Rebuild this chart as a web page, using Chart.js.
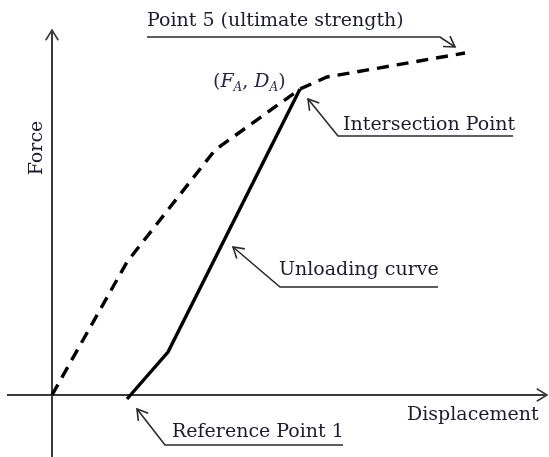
<!DOCTYPE html>
<html>
<head>
<meta charset="utf-8">
<title>Force - Displacement</title>
<script src="https://cdn.jsdelivr.net/npm/chart.js@4"></script>
<style>
  html, body { margin: 0; padding: 0; background: #fff; }
  #wrap { width: 549px; height: 457px; }
</style>
</head>
<body>
<div id="wrap"><canvas id="fdChart" width="549" height="457"></canvas></div>
<script>
// loading envelope (dashed) and unloading branch (solid)
const loadDisp = [0, 1.5, 3.26, 4.96, 5.5, 8.26];
const loadForce = [0, 2.66, 4.9, 6.12, 6.36, 6.84];
const unloadDisp = [1.5, 2.32, 4.96];
const unloadForce = [-0.08, 0.86, 6.12];

const toPoints = (xs, ys) => xs.map((x, i) => ({ x: x, y: ys[i] }));

const serif = '"DejaVu Serif", "Liberation Serif", serif';
const fontSize = 19;
const inkColor = "#1c1c30";

// callouts: text with an underline and a leader ending in an open arrow
const callouts = [
  { text: "Point 5 (ultimate strength)", at: [1.9, 7.38], line: [[1.9, 7.16], [7.76, 7.16], [8.06, 6.96]] },
  { text: "Intersection Point", at: [5.82, 5.3], line: [[9.22, 5.18], [5.72, 5.18], [5.12, 5.92]] },
  { text: "Unloading curve", at: [4.54, 2.4], line: [[7.72, 2.16], [4.56, 2.16], [3.62, 2.96]] },
  { text: "Reference Point 1", at: [2.4, -0.84], line: [[5.82, -1.0], [2.26, -1.0], [1.7, -0.28]] },
];

function arrowHead(ctx, fx, fy, tx, ty, len) {
  const a = Math.atan2(ty - fy, tx - fx);
  ctx.beginPath();
  ctx.moveTo(tx - len * Math.cos(a - 0.55), ty - len * Math.sin(a - 0.55));
  ctx.lineTo(tx, ty);
  ctx.lineTo(tx - len * Math.cos(a + 0.55), ty - len * Math.sin(a + 0.55));
  ctx.stroke();
}

const sketchAxes = {
  id: "sketchAxes",
  beforeDatasetsDraw(chart) {
    const { ctx, scales: { x, y } } = chart;
    const x0 = x.getPixelForValue(0);
    const y0 = y.getPixelForValue(0);
    ctx.save();
    ctx.strokeStyle = "#3a3a3a";
    ctx.lineWidth = 2;
    ctx.beginPath();
    ctx.moveTo(7, y0);
    ctx.lineTo(chart.width - 2, y0);
    ctx.moveTo(x0, chart.height);
    ctx.lineTo(x0, 30);
    ctx.stroke();
    ctx.lineWidth = 1.6;
    arrowHead(ctx, 7, y0, chart.width - 2, y0, 12);
    arrowHead(ctx, x0, chart.height, x0, 30, 12);
    ctx.restore();
  },
  afterDatasetsDraw(chart) {
    const { ctx, scales: { x, y } } = chart;
    const px = (p) => [x.getPixelForValue(p[0]), y.getPixelForValue(p[1])];
    const font = (style, size) => style + " " + size + "px " + serif;
    ctx.save();
    ctx.fillStyle = inkColor;
    ctx.textBaseline = "alphabetic";
    ctx.font = font("", fontSize);

    callouts.forEach((c) => {
      const [tx, ty] = px(c.at);
      ctx.fillText(c.text, tx, ty);
      const pts = c.line.map(px);
      ctx.strokeStyle = "#2a2a2a";
      ctx.lineWidth = 1.6;
      ctx.beginPath();
      pts.forEach((p, i) => (i ? ctx.lineTo(p[0], p[1]) : ctx.moveTo(p[0], p[1])));
      ctx.stroke();
      const n = pts.length;
      arrowHead(ctx, pts[n - 2][0], pts[n - 2][1], pts[n - 1][0], pts[n - 1][1], 12);
    });

    // axis titles
    let [dx, dy] = px([7.1, -0.5]);
    ctx.fillText("Displacement", dx, dy);
    [dx, dy] = px([-0.3, 4.94]);
    ctx.save();
    ctx.translate(dx, dy);
    ctx.rotate(-Math.PI / 2);
    ctx.textAlign = "center";
    ctx.textBaseline = "middle";
    ctx.fillText("Force", 0, 0);
    ctx.restore();

    // (F_A, D_A) label at the intersection
    let [lx, ly] = px([3.22, 6.16]);
    ctx.fillStyle = "#26264a";
    const parts = [
      ["(", font("", fontSize), 0],
      ["F", font("italic", fontSize), 0],
      ["A", font("italic", 12), 4],
      [", ", font("", fontSize), 0],
      ["D", font("italic", fontSize), 0],
      ["A", font("italic", 12), 4],
      [")", font("", fontSize), 0],
    ];
    parts.forEach(([s, f, off]) => {
      ctx.font = f;
      ctx.fillText(s, lx, ly + off);
      lx += ctx.measureText(s).width;
    });
    ctx.restore();
  },
};

new Chart(document.getElementById("fdChart"), {
  type: "scatter",
  data: {
    datasets: [
      {
        label: "Loading",
        data: toPoints(loadDisp, loadForce),
        showLine: true,
        borderColor: "#000",
        borderWidth: 3.4,
        borderDash: [12, 8],
        pointRadius: 0,
        tension: 0,
      },
      {
        label: "Unloading curve",
        data: toPoints(unloadDisp, unloadForce),
        showLine: true,
        borderColor: "#000",
        borderWidth: 3.4,
        pointRadius: 0,
        tension: 0,
      },
    ],
  },
  options: {
    responsive: false,
    animation: false,
    layout: { padding: 0 },
    plugins: { legend: { display: false }, tooltip: { enabled: false } },
    scales: {
      x: { type: "linear", display: false, min: -1.04, max: 9.94 },
      y: { type: "linear", display: false, min: -1.24, max: 7.9 },
    },
  },
  plugins: [sketchAxes],
});
</script>
</body>
</html>
